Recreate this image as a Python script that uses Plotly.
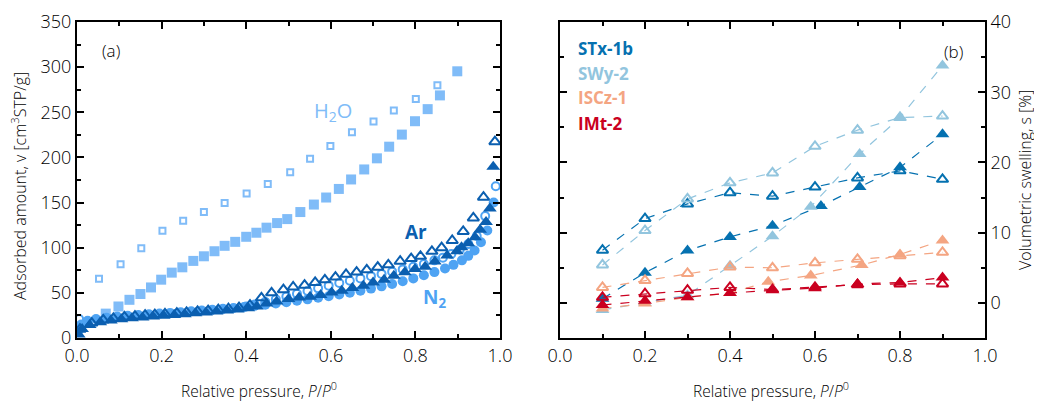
import plotly.graph_objects as go

# ---------------- Panel (a): sorption isotherms ----------------
h2o_ads_p = [0.068, 0.098, 0.124, 0.150, 0.175, 0.199, 0.224, 0.249, 0.275, 0.300, 0.325, 0.349, 0.374,
             0.400, 0.424, 0.448, 0.473, 0.497, 0.528, 0.560, 0.589, 0.619, 0.648, 0.679, 0.709, 0.738,
             0.768, 0.799, 0.829, 0.858, 0.899]
h2o_ads_v = [27, 34.9, 42.3, 48.7, 56, 64.6, 72.4, 78.3, 85.4, 90.5, 96.1, 102.1, 106.5,
             112.1, 116.6, 122.2, 127.3, 131.7, 139.5, 147.8, 155.6, 165.1, 175.6, 186.7, 199, 211.9,
             225.3, 240.1, 253.5, 268.7, 295.4]
h2o_des_p = [0.052, 0.103, 0.152, 0.202, 0.251, 0.300, 0.349, 0.401, 0.451, 0.504, 0.551, 0.599,
             0.650, 0.701, 0.749, 0.801, 0.852, 0.899]
h2o_des_v = [65.7, 81.6, 99.5, 118.8, 130, 139.5, 149.6, 160, 170.7, 183.7, 198.6, 212.7,
             228, 239.8, 252, 264.7, 280, 295.4]

n2_ads_p = [0.003, 0.01, 0.025, 0.045, 0.07, 0.095, 0.12, 0.145, 0.17, 0.195, 0.22, 0.245, 0.27, 0.295,
            0.32, 0.345, 0.37, 0.395, 0.42, 0.445, 0.47, 0.495, 0.52, 0.545, 0.57, 0.595, 0.62, 0.645,
            0.67, 0.695, 0.72, 0.745, 0.77, 0.795, 0.82, 0.845, 0.87, 0.89, 0.91, 0.925, 0.94, 0.955,
            0.97, 0.985]
n2_ads_v = [8, 15, 19, 21, 22.5, 23.7, 24.6, 25.4, 26.2, 27, 27.8, 28.6, 29.5, 30.4,
            31.3, 32.3, 33.3, 34.4, 35.6, 36.8, 38.2, 39.6, 41.2, 42.8, 44.5, 46.3, 48.2, 50.2,
            52.4, 54.7, 57.2, 59.9, 62.8, 66, 69.5, 73, 77, 81, 86, 91, 97, 106,
            119, 150]
n2_des_p = [0.005, 0.40, 0.42, 0.445, 0.47, 0.495, 0.52, 0.545, 0.57, 0.595, 0.62, 0.645, 0.67, 0.695,
            0.72, 0.745, 0.77, 0.795, 0.82, 0.845, 0.865, 0.885, 0.905, 0.925, 0.945, 0.965, 0.99]
n2_des_v = [21, 35, 37, 40, 43, 46, 49, 52, 55, 58, 61, 63.5, 66, 68.5,
            71, 73.5, 76, 79, 82, 86, 89, 93, 98, 104, 113, 135, 168]

ar_ads_p = [0.004, 0.012, 0.03, 0.055, 0.08, 0.105, 0.13, 0.155, 0.18, 0.205, 0.23, 0.255, 0.28, 0.305,
            0.33, 0.355, 0.38, 0.405, 0.425, 0.448, 0.472, 0.5, 0.525, 0.551, 0.576, 0.602, 0.626,
            0.651, 0.677, 0.70, 0.726, 0.749, 0.775, 0.799, 0.823, 0.846, 0.875, 0.898, 0.909, 0.925,
            0.941, 0.953, 0.967, 0.976, 0.984]
ar_ads_v = [4, 10, 14.5, 17.5, 19.5, 20.8, 21.8, 22.8, 23.8, 24.6, 25.5, 26.4, 27.3, 28.3,
            29.3, 30.4, 31.6, 33, 35, 38.2, 40.4, 43.1, 44.9, 45.7, 47.5, 50.5, 52.3,
            55.3, 57.9, 61.6, 64.6, 69, 72.7, 76.5, 79, 84.6, 91.3, 96.1, 100.6, 105,
            111.7, 119.9, 128.4, 143.3, 189.6]
ar_des_p = [0.007, 0.035, 0.062, 0.086, 0.112, 0.137, 0.161, 0.184, 0.208, 0.236, 0.259, 0.285, 0.31,
            0.334, 0.358, 0.383, 0.409, 0.436, 0.46, 0.488, 0.511, 0.538, 0.563, 0.586, 0.611, 0.636,
            0.661, 0.685, 0.711, 0.736, 0.764, 0.79, 0.812, 0.839, 0.862, 0.887, 0.913, 0.937, 0.961,
            0.988]
ar_des_v = [9.7, 16.5, 20, 21.8, 23.3, 24.3, 25.2, 26, 26.8, 27.6, 28.4, 29.4, 30.3,
            31.3, 32.4, 33.6, 36.5, 44.5, 50, 53.5, 56.5, 58.5, 61.5, 64.5, 67.5, 70.5,
            73, 75.5, 78.5, 81, 85, 88, 90.5, 96, 100, 108, 118, 133, 156, 217.5]

# ---------------- Panel (b): volumetric swelling ----------------
stx_fill_p = [0.1, 0.2, 0.3, 0.4, 0.5, 0.614, 0.705, 0.8, 0.9]
stx_fill_s = [0.6, 4.3, 7.45, 9.4, 11.0, 13.8, 16.5, 19.3, 24.0]
stx_open_p = [0.1, 0.2, 0.3, 0.4, 0.5, 0.6, 0.7, 0.8, 0.9]
stx_open_s = [7.5, 12.0, 14.1, 15.7, 15.2, 16.5, 17.8, 18.8, 17.6]

swy_fill_p = [0.1, 0.2, 0.3, 0.4, 0.5, 0.59, 0.705, 0.8, 0.9]
swy_fill_s = [-1.0, 0.0, 1.1, 5.3, 9.5, 13.7, 21.2, 26.4, 33.8]
swy_open_p = [0.1, 0.2, 0.3, 0.4, 0.5, 0.6, 0.7, 0.8, 0.9]
swy_open_s = [5.4, 10.3, 14.8, 17.1, 18.5, 22.3, 24.6, 26.4, 26.6]

iscz_fill_p = [0.1, 0.2, 0.3, 0.4, 0.49, 0.59, 0.71, 0.8, 0.9]
iscz_fill_s = [-0.8, -0.1, 0.8, 1.4, 3.0, 3.9, 5.4, 6.9, 8.9]
iscz_open_p = [0.1, 0.2, 0.3, 0.4, 0.5, 0.6, 0.7, 0.8, 0.9]
iscz_open_s = [2.2, 3.2, 4.2, 5.1, 5.0, 5.7, 6.2, 6.7, 7.2]

imt_fill_p = [0.1, 0.2, 0.3, 0.4, 0.5, 0.6, 0.7, 0.8, 0.9]
imt_fill_s = [-0.3, 0.3, 0.8, 1.4, 1.8, 2.1, 2.7, 2.9, 3.6]
imt_open_p = [0.1, 0.2, 0.3, 0.4, 0.5, 0.6, 0.7, 0.8, 0.9]
imt_open_s = [0.8, 1.3, 1.8, 2.2, 1.9, 2.2, 2.6, 2.7, 2.7]

sample_names = ["STx-1b", "SWy-2", "ISCz-1", "IMt-2"]
sample_colors = ["#0571b0", "#92c5de", "#f4a582", "#ca0020"]

C_AR = "#0b5fb0"
C_N2 = "#4ea3f3"
C_H2O = "#80bcf8"
FONT = "Open Sans"

fig = go.Figure()

# panel (a)
fig.add_trace(go.Scatter(x=h2o_des_p, y=h2o_des_v, mode="markers", xaxis="x", yaxis="y",
                         marker=dict(symbol="square-open", size=6, color=C_H2O, line=dict(width=2, color=C_H2O))))
fig.add_trace(go.Scatter(x=h2o_ads_p, y=h2o_ads_v, mode="markers", xaxis="x", yaxis="y",
                         marker=dict(symbol="square", size=10, color=C_H2O, line=dict(width=0))))
fig.add_trace(go.Scatter(x=n2_ads_p, y=n2_ads_v, mode="markers", xaxis="x", yaxis="y",
                         marker=dict(symbol="circle", size=10, color=C_N2, line=dict(width=0))))
fig.add_trace(go.Scatter(x=n2_des_p, y=n2_des_v, mode="markers", xaxis="x", yaxis="y",
                         marker=dict(symbol="circle-open", size=8, color=C_N2, line=dict(width=2, color=C_N2))))
fig.add_trace(go.Scatter(x=ar_ads_p, y=ar_ads_v, mode="markers", xaxis="x", yaxis="y",
                         marker=dict(symbol="triangle-up", size=12, color=C_AR, line=dict(width=0))))
fig.add_trace(go.Scatter(x=ar_des_p, y=ar_des_v, mode="markers", xaxis="x", yaxis="y",
                         marker=dict(symbol="triangle-up-open", size=10, color=C_AR, line=dict(width=2, color=C_AR))))

# panel (b)
panel_b = [
    (stx_open_p, stx_open_s, stx_fill_p, stx_fill_s),
    (swy_open_p, swy_open_s, swy_fill_p, swy_fill_s),
    (iscz_open_p, iscz_open_s, iscz_fill_p, iscz_fill_s),
    (imt_open_p, imt_open_s, imt_fill_p, imt_fill_s),
]
for (op, os_, fp, fs), col in zip(panel_b, sample_colors):
    fig.add_trace(go.Scatter(x=fp, y=fs, mode="lines+markers", xaxis="x2", yaxis="y2",
                             line=dict(color=col, width=1.2, dash="dash"),
                             marker=dict(symbol="triangle-up", size=12, color=col, line=dict(width=0))))
    fig.add_trace(go.Scatter(x=op, y=os_, mode="lines+markers", xaxis="x2", yaxis="y2",
                             line=dict(color=col, width=1.2, dash="dash"),
                             marker=dict(symbol="triangle-up-open", size=10, color=col, line=dict(width=2, color=col))))

axis_common = dict(showline=True, linewidth=2, linecolor="black", mirror="ticks", ticks="inside",
                   ticklen=7, tickwidth=2, tickcolor="black", showgrid=False, zeroline=False,
                   automargin=False,
                   tickfont=dict(family=FONT, size=18, color="black", weight=300))

# the page body adds an 8 px offset; reference pixel coords are converted by subtracting OFF
OFF = 8
W, H = 1042 - 2 * OFF, 409 - 2 * OFF
T = 22 - OFF
PB = 338 - OFF          # bottom edge of plot areas in figure px
B = H - PB


def fx(xpx):
    return (xpx - OFF) / W


def py(ypx):
    return (PB - (ypx - OFF)) / (PB - T)


fig.update_layout(
    width=W, height=H, showlegend=False, template="none",
    plot_bgcolor="white", paper_bgcolor="white",
    margin=dict(l=0, r=0, t=T, b=B, pad=0, autoexpand=False),
    font=dict(family=FONT, color="black"),
    xaxis=dict(domain=[fx(77), fx(500)], range=[0, 1.0], dtick=0.2, tickformat=".1f", anchor="y",
               minor=dict(dtick=0.1, ticks="inside", ticklen=4, tickwidth=2, tickcolor="black"), **axis_common),
    yaxis=dict(domain=[0, 1], range=[0, 350], dtick=50, anchor="x",
               minor=dict(dtick=25, ticks="inside", ticklen=4, tickwidth=2, tickcolor="black"), **axis_common),
    xaxis2=dict(domain=[fx(560), fx(985)], range=[0, 1.0], dtick=0.2, tickformat=".1f", anchor="y2",
                minor=dict(dtick=0.1, ticks="inside", ticklen=4, tickwidth=2, tickcolor="black"), **axis_common),
    yaxis2=dict(domain=[0, 1], range=[-5, 40], dtick=10, anchor="x2", side="right",
                minor=dict(dtick=5, ticks="inside", ticklen=4, tickwidth=2, tickcolor="black"), **axis_common),
)

anns = [
    dict(x=fx(19), y=py(186), text="Adsorbed amount, v [cm<sup>3</sup>STP/g]", textangle=-90,
         font=dict(size=16, weight=300)),
    dict(x=fx(1025), y=py(180), text="Volumetric swelling, s [%]", textangle=-90,
         font=dict(size=16, weight=300)),
    dict(x=fx(259), y=py(390), text="Relative pressure, <i>P</i>/<i>P</i><sup>0</sup>",
         font=dict(size=15.5, weight=300)),
    dict(x=fx(771), y=py(390), text="Relative pressure, <i>P</i>/<i>P</i><sup>0</sup>",
         font=dict(size=15.5, weight=300)),
    dict(x=fx(111), y=py(50), text="(a)", font=dict(size=17, weight=300)),
    dict(x=fx(953), y=py(52), text="(b)", font=dict(size=17, weight=300)),
    dict(x=fx(333), y=py(112), text="H<sub>2</sub>O", font=dict(size=20, color=C_H2O)),
    dict(x=fx(416), y=py(232), text="<b>Ar</b>", font=dict(size=19, color=C_AR)),
    dict(x=fx(434), y=py(298), text="<b>N<sub>2</sub></b>", font=dict(size=19, color=C_N2)),
]
for i, (nm, col) in enumerate(zip(sample_names, sample_colors)):
    anns.append(dict(x=fx(576), y=py(48 + 25 * i), text="<b>" + nm + "</b>", xanchor="left",
                     font=dict(size=17, color=col)))

for a in anns:
    a.setdefault("xanchor", "center")
    a.update(xref="paper", yref="paper", yanchor="middle", showarrow=False)
    fig.add_annotation(**a)

fig.write_html("out.html")
